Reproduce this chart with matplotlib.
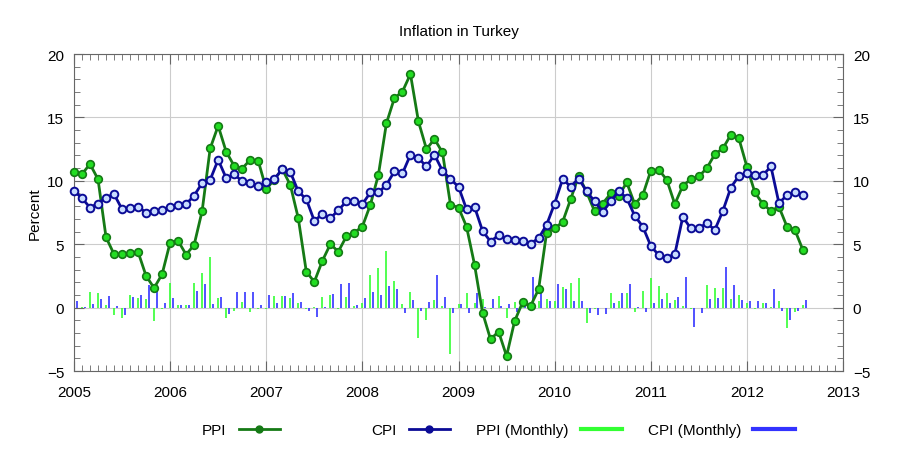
import numpy as np
import matplotlib
matplotlib.use('Agg')
import matplotlib.pyplot as plt
from matplotlib.lines import Line2D
from matplotlib.ticker import MultipleLocator

plt.rcParams['font.family'] = ['Liberation Sans', 'DejaVu Sans']

# monthly data, Jan 2005 .. Aug 2012 (annual % change)
ppi = [10.66, 10.53, 11.32, 10.13, 5.55, 4.21, 4.21, 4.29, 4.39, 2.5, 1.55, 2.63,
       5.13, 5.26, 4.18, 4.95, 7.63, 12.55, 14.34, 12.29, 11.18, 10.97, 11.66, 11.58,
       9.34, 10.1, 10.92, 9.68, 7.05, 2.84, 2.03, 3.68, 5.0, 4.42, 5.61, 5.92,
       6.39, 8.11, 10.47, 14.53, 16.53, 17.03, 18.42, 14.68, 12.5, 13.29, 12.24, 8.11,
       7.89, 6.39, 3.39, -0.39, -2.5, -1.89, -3.82, -1.08, 0.42, 0.13, 1.45, 5.92,
       6.24, 6.76, 8.55, 10.39, 9.1, 7.58, 8.21, 9.0, 8.82, 9.87, 8.16, 8.87,
       10.79, 10.87, 10.08, 8.16, 9.61, 10.13, 10.34, 11.0, 12.1, 12.55, 13.63, 13.34,
       11.11, 9.08, 8.16, 7.63, 7.95, 6.39, 6.11, 4.53]

cpi = [9.21, 8.63, 7.89, 8.21, 8.68, 8.95, 7.76, 7.89, 7.95, 7.5, 7.61, 7.71,
       7.95, 8.13, 8.16, 8.84, 9.82, 10.08, 11.66, 10.21, 10.53, 9.95, 9.82, 9.61,
       9.87, 10.13, 10.92, 10.71, 9.16, 8.55, 6.84, 7.37, 7.05, 7.68, 8.37, 8.37,
       8.16, 9.08, 9.08, 9.68, 10.74, 10.58, 12.05, 11.79, 11.13, 12.05, 10.79, 10.13,
       9.53, 7.76, 7.95, 6.05, 5.21, 5.71, 5.39, 5.32, 5.26, 5.05, 5.47, 6.53,
       8.21, 10.13, 9.55, 10.18, 9.16, 8.37, 7.55, 8.37, 9.21, 8.63, 7.24, 6.39,
       4.87, 4.13, 3.95, 4.21, 7.16, 6.24, 6.26, 6.66, 6.13, 7.63, 9.47, 10.39,
       10.61, 10.45, 10.45, 11.13, 8.24, 8.87, 9.08, 8.89]

# month-on-month % change
ppi_m = [-0.45, 0.08, 1.24, 1.18, 0.21, -0.55, -0.79, 1.03, 0.76, 0.66, -1.05, -0.08,
         1.92, 0.21, 0.21, 1.92, 2.76, 4.03, 0.79, -0.79, -0.26, 0.45, -0.34, -0.13,
         -0.08, 0.92, 0.92, 0.79, 0.39, -0.08, 0.05, 0.84, 1.0, -0.13, 0.87, 0.13,
         0.39, 2.58, 3.16, 4.47, 2.11, 0.32, 1.24, -2.37, -0.97, 0.58, 0.1, -3.63,
         0.26, 1.18, 0.39, 0.66, -0.08, 0.92, -0.79, 0.45, 0.5, 0.35, 0.5, 0.66,
         0.53, 1.66, 1.92, 2.37, -1.24, -0.08, -0.05, 1.13, 0.53, 1.18, -0.32, 1.32,
         2.37, 1.71, 1.18, 0.6, 0.13, -0.08, -0.05, 1.76, 1.53, 1.58, 0.66, 0.97,
         0.39, -0.08, 0.39, 0.05, 0.53, -1.58, -0.37, 0.24]

cpi_m = [0.53, 0.03, 0.26, 0.71, 0.92, 0.1, -0.62, 0.84, 1.02, 1.78, 1.74, 0.39,
         0.74, 0.21, 0.21, 1.3, 1.87, 0.32, 0.84, -0.53, 1.26, 1.26, 1.26, 0.21,
         0.97, 0.39, 0.92, 1.18, 0.47, -0.25, -0.71, 0.03, 1.05, 1.84, 1.92, 0.21,
         0.79, 1.26, 0.97, 1.68, 1.5, -0.42, 0.6, -0.28, 0.47, 2.6, 0.84, -0.45,
         0.32, -0.39, 1.18, 0.03, 0.66, 0.13, 0.26, -0.34, 0.34, 2.42, 1.24, 0.53,
         1.84, 1.45, 0.53, 0.53, -0.39, -0.58, -0.53, 0.39, 1.18, 1.84, 0.02, -0.34,
         0.39, 0.71, 0.39, 0.84, 2.42, -1.5, -0.45, 0.71, 0.74, 3.24, 1.76, 0.58,
         0.53, 0.53, 0.39, 1.5, -0.26, -0.97, -0.26, 0.58]

start_year = 2005
years = list(range(2005, 2014))

t = start_year + np.arange(len(ppi)) / 12.0

dark_green = '#157a15'
light_green = '#22dd22'
navy = '#0b0b96'
bar_green = '#33ff33'
bar_blue = '#3333ff'

fig = plt.figure(figsize=(9, 4.6), dpi=100)
ax = fig.add_axes([0.0822, 0.1913, 0.8545, 0.6891])

ax.grid(True, color='#cccccc', linewidth=0.8)
ax.set_axisbelow(True)

# monthly bars, thin lines
ax.vlines(t, 0, ppi_m, colors=bar_green, lw=1.2, zorder=2)
ax.vlines(t + 0.03, 0, cpi_m, colors=bar_blue, lw=1.2, zorder=2)

ax.plot(t, ppi, '-o', color=dark_green, lw=2, ms=5.5,
        mfc=light_green, mec=dark_green, mew=1.2, zorder=3, clip_on=False)
ax.plot(t, cpi, '-o', color=navy, lw=2, ms=5.5,
        mfc='#c8dcff', mec=navy, mew=1.4, zorder=4, clip_on=False)

ax.set_xlim(2005, 2013)
ax.set_ylim(-5, 20)
ax.set_xticks(years)
ax.set_xticklabels([str(y) for y in years])
ax.xaxis.set_minor_locator(MultipleLocator(1 / 12))
ax.yaxis.set_major_locator(MultipleLocator(5))
ax.yaxis.set_minor_locator(MultipleLocator(1))
ax.tick_params(which='both', direction='in', top=True, right=True,
               labelright=True, color='#666666', labelsize=11)
ax.tick_params(which='major', length=7, pad=7)
ax.tick_params(axis='x', which='major', pad=10)
ax.tick_params(which='minor', length=4)
for s in ax.spines.values():
    s.set_color('#666666')

ax.set_ylabel('Percent', fontsize=11)
ax.set_title('Inflation in Turkey', fontsize=11, pad=14)

handles = [
    Line2D([], [], color=dark_green, lw=2, marker='o', ms=5, mfc=dark_green, mec=dark_green),
    Line2D([], [], color=navy, lw=2, marker='o', ms=5, mfc=navy, mec=navy),
    Line2D([], [], color=bar_green, lw=3),
    Line2D([], [], color=bar_blue, lw=3),
]
labels = ['PPI', 'CPI', 'PPI (Monthly)', 'CPI (Monthly)']
right_edges = [0.311, 0.5, 0.691, 0.883]
for h, l, xr in zip(handles, labels, right_edges):
    fig.legend([h], [l], loc='center right', bbox_to_anchor=(xr, 0.063),
               frameon=False, markerfirst=False, fontsize=11,
               handlelength=2.7, handletextpad=0.8, borderpad=0, borderaxespad=0)

fig.savefig('out.png', dpi=100)
